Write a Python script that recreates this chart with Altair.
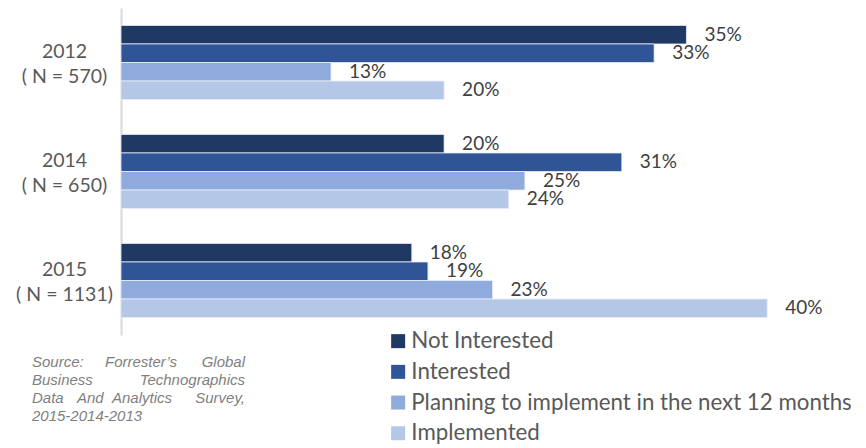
import altair as alt
import pandas as pd

years = ["2012|( N = 570)", "2014|( N = 650)", "2015|( N = 1131)"]
series = ["Not Interested", "Interested",
          "Planning to implement in the next 12 months", "Implemented"]
not_interested = [35, 20, 18]
interested = [33, 31, 19]
planning = [13, 25, 23]
implemented = [20, 24, 40]
colors = ["#203864", "#2F5597", "#8FAADC", "#B4C7E7"]

rows = []
for i, yr in enumerate(years):
    for s, vals in zip(series, [not_interested, interested, planning, implemented]):
        rows.append({"year": yr, "series": s, "value": vals[i], "label": f"{vals[i]}%"})
df = pd.DataFrame(rows)

FONT = "Lato"

y_enc = alt.Y(
    "year:N", sort=years, title=None,
    scale=alt.Scale(paddingInner=0.32, paddingOuter=0.16),
    axis=alt.Axis(labelExpr="split(datum.label, '|')", labelAlign="center",
                  labelBaseline="middle", labelPadding=57, labelOffset=-10.5,
                  labelFontSize=19.5,
                  labelFont=FONT, labelColor="#595959", labelLineHeight=25,
                  ticks=False, tickSize=0, domainColor="#d9d9d9", domainWidth=2,
                  grid=False, labelLimit=300),
)
yoff = alt.YOffset("series:N", sort=series,
                   scale=alt.Scale(paddingInner=0, paddingOuter=0))
x_enc = alt.X("value:Q", scale=alt.Scale(domain=[0, 45], nice=False), axis=None)

bars = alt.Chart(df).mark_bar(stroke="#e8eef8", strokeWidth=0.8).encode(
    x=x_enc, y=y_enc, yOffset=yoff,
    color=alt.Color("series:N", sort=series,
                    scale=alt.Scale(domain=series, range=colors),
                    legend=alt.Legend(title=None, orient="none", legendX=266, legendY=322,
                                      symbolType="square", symbolSize=196,
                                      symbolStrokeWidth=0, labelFont=FONT,
                                      labelFontSize=22.3, labelColor="#595959",
                                      rowPadding=7.7, labelOffset=2, padding=0,
                                      labelLimit=600, direction="vertical")),
)

labels = alt.Chart(df).mark_text(align="left", baseline="middle", dx=18, font=FONT,
                                 fontSize=19, color="#404040").encode(
    x=x_enc, y=y_enc, yOffset=yoff, text="label:N")

src_style = dict(font="Liberation Sans", fontSize=15, fontStyle="italic",
                 color="#7f7f7f", baseline="alphabetic")
one = pd.DataFrame({"k": [0]})


def word(txt, x, y, align="left"):
    return alt.Chart(one).mark_text(align=align, **src_style).encode(
        x=alt.value(x), y=alt.value(y), text=alt.value(txt))


ox, oy = 121, 8
L, R = 32 - ox, 245 - ox
b1, b2, b3, b4 = 367 - oy, 385 - oy, 403 - oy, 421 - oy
source = [
    word("Source:", L, b1),
    word("Forrester\u2019s", 105 - ox, b1),
    word("Global", R, b1, "right"),
    word("Business", L, b2),
    word("Technographics", R, b2, "right"),
    word("Data", L, b3),
    word("And", 77 - ox, b3),
    word("Analytics", 112 - ox, b3),
    word("Survey,", R, b3, "right"),
    word("2015-2014-2013", L, b4),
]

chart = alt.layer(bars, labels, *source).properties(
    width=727, height=327,
    autosize=alt.AutoSizeParams(type="none"),
    padding={"left": ox, "top": oy, "right": 866 - ox - 727, "bottom": 448 - oy - 327},
    background="white",
).configure_view(stroke=None)

chart.save("out.html", embed_options={"renderer": "svg", "actions": False})
